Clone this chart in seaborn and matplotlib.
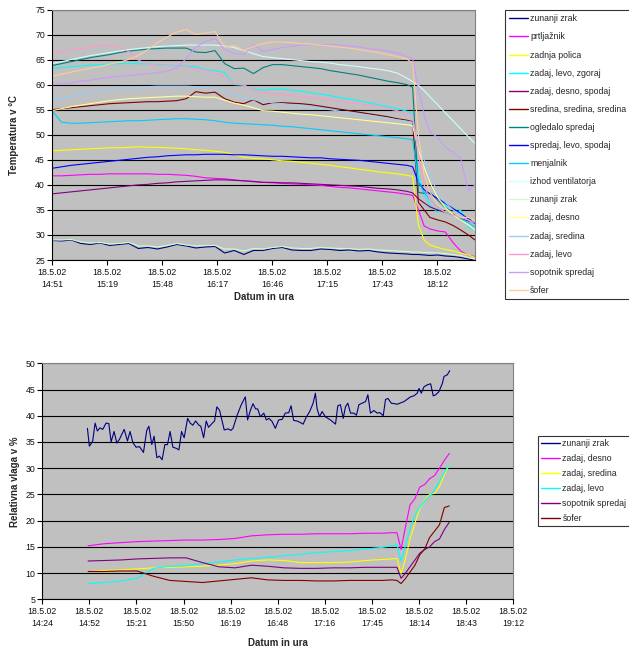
import numpy as np
import pandas as pd
import matplotlib
matplotlib.use("Agg")
import matplotlib.pyplot as plt
import seaborn as sns

sns.set_theme(style="white")
plt.rcParams['font.family'] = ['Liberation Sans', 'DejaVu Sans']

# ---------------- top chart: temperatures (minutes after 14:51) ----------------
temp_minutes = [0, 5, 10, 15, 20, 25, 30, 35, 40, 45,
                50, 55, 60, 65, 70, 75, 80, 85, 90, 95,
                100, 105, 110, 115, 120, 125, 130, 135, 140, 145,
                150, 155, 160, 165, 170, 175, 180, 185, 188, 191,
                194, 197, 201, 205, 209, 213, 217, 220.5]
temp_tick_labels = ["18.5.02\n14:51", "18.5.02\n15:19", "18.5.02\n15:48", "18.5.02\n16:17",
                    "18.5.02\n16:46", "18.5.02\n17:15", "18.5.02\n17:43", "18.5.02\n18:12"]

t_zunanji = [28.9, 28.8, 29.0, 28.3, 28.1, 28.4, 27.9, 28.1, 28.3, 27.3,
             27.5, 27.2, 27.6, 28.1, 27.8, 27.4, 27.6, 27.7, 26.4, 26.9,
             26.1, 26.9, 26.9, 27.3, 27.5, 27.0, 26.9, 26.9, 27.2, 27.1,
             26.9, 27.0, 26.8, 26.9, 26.6, 26.4, 26.3, 26.2, 26.1, 26.1,
             26.0, 25.9, 26.0, 25.8, 25.7, 25.5, 25.2, 24.9]
t_prtljaznik = [41.8, 41.8, 41.9, 42.0, 42.1, 42.1, 42.2, 42.2, 42.2, 42.2,
                42.2, 42.1, 42.1, 42.0, 41.9, 41.7, 41.4, 41.3, 41.2, 41.0,
                40.8, 40.6, 40.5, 40.4, 40.3, 40.2, 40.1, 40.0, 39.9, 39.7,
                39.5, 39.4, 39.2, 39.0, 38.8, 38.6, 38.4, 38.1, 37.9, 35.0,
                31.8, 31.2, 30.8, 30.6, 28.5, 26.8, 25.9, 25.7]
t_polica = [46.8, 46.9, 47.0, 47.1, 47.2, 47.3, 47.4, 47.4, 47.5, 47.6,
            47.5, 47.5, 47.4, 47.3, 47.2, 47.0, 46.9, 46.7, 46.5, 46.0,
            45.5, 45.3, 45.2, 45.0, 44.8, 44.7, 44.5, 44.3, 44.1, 43.9,
            43.6, 43.4, 43.1, 42.9, 42.6, 42.4, 42.2, 41.9, 41.7, 32.0,
            29.0, 28.0, 27.5, 27.1, 26.8, 26.4, 26.0, 25.5]
t_zlz = [63.3, 63.4, 63.6, 63.7, 63.9, 64.0, 64.1, 64.2, 64.2, 64.2,
         64.1, 64.0, 63.9, 63.8, 63.7, 63.6, 63.0, 62.8, 62.4, 60.0,
         59.9, 59.1, 58.9, 59.1, 59.1, 58.9, 58.7, 58.4, 58.1, 57.8,
         57.4, 57.1, 56.8, 56.4, 56.0, 55.6, 55.2, 54.7, 54.2, 42.0,
         38.0, 36.0, 34.5, 36.0, 34.0, 35.0, 31.5, 31.0]
t_zds = [38.2, 38.4, 38.6, 38.8, 39.0, 39.2, 39.4, 39.6, 39.8, 40.0,
         40.1, 40.3, 40.4, 40.6, 40.7, 40.8, 40.9, 41.0, 41.0, 40.9,
         40.8, 40.7, 40.5, 40.5, 40.4, 40.4, 40.3, 40.2, 40.1, 40.0,
         39.9, 39.8, 39.7, 39.5, 39.3, 39.2, 39.0, 38.7, 38.4, 37.2,
         36.4, 35.6, 35.0, 34.5, 34.0, 33.3, 32.8, 32.3]
t_sredina = [55.0, 55.2, 55.4, 55.6, 55.8, 56.0, 56.2, 56.3, 56.4, 56.5,
             56.6, 56.6, 56.7, 56.8, 57.2, 58.6, 58.3, 58.5, 57.2, 56.5,
             56.2, 57.0, 56.0, 56.4, 56.4, 56.3, 56.2, 56.0, 55.7, 55.4,
             55.1, 54.8, 54.5, 54.2, 53.9, 53.6, 53.2, 52.9, 52.6, 36.5,
             35.0, 33.5, 33.0, 32.6, 31.9, 31.0, 30.0, 29.0]
t_ogledalo = [63.8, 64.2, 64.6, 65.0, 65.4, 65.7, 66.0, 66.4, 66.7, 66.9,
              67.1, 67.2, 67.3, 67.3, 67.3, 66.5, 66.4, 66.8, 64.2, 63.2,
              63.3, 62.2, 63.4, 64.0, 64.0, 63.8, 63.6, 63.4, 63.2, 62.8,
              62.5, 62.2, 61.9, 61.5, 61.1, 60.7, 60.4, 60.0, 59.5, 38.5,
              38.3, 38.5, 37.0, 35.5, 34.5, 33.0, 33.5, 32.0]
t_sls = [43.3, 43.6, 43.9, 44.1, 44.3, 44.5, 44.7, 44.9, 45.1, 45.3,
         45.5, 45.6, 45.8, 45.9, 46.0, 46.0, 46.1, 46.1, 46.1, 46.0,
         46.0, 45.9, 45.8, 45.7, 45.7, 45.6, 45.5, 45.4, 45.4, 45.2,
         45.1, 45.0, 44.9, 44.7, 44.5, 44.3, 44.1, 43.9, 43.6, 40.5,
         39.0, 38.2, 37.3, 36.3, 35.3, 34.3, 33.2, 32.3]
t_menjalnik = [54.8, 52.5, 52.3, 52.3, 52.4, 52.5, 52.6, 52.7, 52.8, 52.8,
               52.9, 53.0, 53.1, 53.2, 53.2, 53.1, 53.0, 52.8, 52.5, 52.3,
               52.2, 52.1, 52.0, 51.9, 51.7, 51.6, 51.4, 51.2, 51.0, 50.8,
               50.6, 50.4, 50.2, 50.0, 49.8, 49.6, 49.4, 49.2, 49.0, 40.5,
               38.5, 37.0, 35.5, 34.5, 34.0, 33.2, 32.5, 31.5]
t_izhod = [64.2, 64.6, 65.0, 65.4, 65.8, 66.1, 66.4, 66.7, 67.0, 67.2,
           67.4, 67.6, 67.7, 67.8, 67.9, 67.9, 67.9, 67.9, 67.7, 67.4,
           66.8, 66.2, 65.6, 65.4, 65.2, 65.0, 64.8, 64.6, 64.5, 64.3,
           64.0, 63.8, 63.6, 63.3, 63.1, 62.8, 62.3, 61.3, 60.6, 59.9,
           58.8, 57.6, 56.0, 54.4, 52.8, 51.2, 49.6, 48.3]
t_zunanji2 = [29.0, 29.0, 29.1, 28.6, 28.4, 28.5, 28.2, 28.3, 28.5, 27.8,
              27.8, 27.6, 27.9, 28.3, 28.0, 27.8, 27.9, 27.9, 27.2, 27.2,
              26.8, 27.3, 27.2, 27.5, 27.7, 27.4, 27.3, 27.3, 27.5, 27.4,
              27.3, 27.3, 27.1, 27.2, 27.0, 26.9, 26.8, 26.7, 26.6, 26.6,
              26.5, 26.5, 26.4, 26.3, 26.1, 25.9, 25.5, 25.2]
t_zadaj_desno = [54.8, 55.2, 55.6, 55.9, 56.2, 56.5, 56.8, 57.0, 57.2, 57.3,
                 57.4, 57.5, 57.6, 57.7, 57.7, 57.6, 57.5, 57.5, 56.9, 56.3,
                 55.9, 55.4, 54.8, 54.7, 54.5, 54.3, 54.1, 54.0, 53.8, 53.6,
                 53.4, 53.2, 53.0, 52.8, 52.6, 52.4, 52.2, 52.0, 51.8, 47.0,
                 43.5, 40.5, 37.5, 35.5, 34.0, 33.0, 32.0, 31.0]
t_zadaj_sredina = [56.9, 57.2, 57.6, 58.0, 58.4, 58.7, 59.0, 59.2, 59.4, 59.5,
                   59.6, 59.7, 59.7, 59.7, 59.7, 59.6, 59.5, 59.3, 58.7, 58.0,
                   57.4, 57.0, 56.6, 56.4, 56.2, 55.9, 55.7, 55.5, 55.2, 55.0,
                   54.7, 54.4, 54.1, 53.9, 53.6, 53.3, 53.0, 52.7, 52.5, 48.5,
                   45.0, 42.0, 38.5, 36.5, 35.0, 34.0, 33.0, 32.0]
t_zadaj_levo = [66.3, 66.7, 67.0, 67.2, 67.5, 67.8, 67.8, 67.5, 66.6, 64.9,
                64.1, 63.9, 63.8, 63.7, 63.6, 63.1, 62.9, 62.3, 61.6, 60.2,
                59.9, 59.0, 58.3, 58.2, 58.0, 57.8, 57.6, 57.4, 57.2, 56.9,
                56.7, 56.4, 56.2, 55.9, 55.6, 55.2, 54.8, 54.3, 53.9, 46.0,
                40.0, 37.0, 35.5, 34.5, 34.0, 33.5, 33.0, 32.5]
t_sopotnik = [60.0, 60.2, 60.4, 60.7, 60.9, 61.2, 61.5, 61.7, 61.8, 62.0,
              62.2, 62.4, 62.7, 63.4, 65.2, 67.5, 68.6, 69.2, 67.0, 66.2,
              66.0, 68.0, 66.6, 67.0, 67.4, 67.7, 67.9, 68.0, 68.0, 68.0,
              67.9, 67.7, 67.5, 67.2, 67.0, 66.7, 66.3, 65.6, 65.2, 59.0,
              54.0, 50.5, 49.5, 47.5, 46.5, 45.3, 38.8, 40.0]
t_sofer = [61.7, 62.1, 62.5, 62.9, 63.3, 63.6, 64.1, 64.5, 65.0, 65.8,
           67.0, 68.4, 69.5, 70.5, 71.0, 70.0, 70.3, 70.6, 67.5, 67.8,
           66.8, 67.6, 68.2, 68.5, 68.5, 68.4, 68.2, 68.1, 67.9, 67.7,
           67.5, 67.3, 67.0, 66.7, 66.4, 66.0, 65.6, 65.1, 64.3, 50.0,
           42.0, 38.5, 36.0, 35.0, 34.5, 33.5, 33.5, 33.0]

temp_names = ["zunanji zrak", "prtljažnik", "zadnja polica", "zadaj, levo, zgoraj",
              "zadaj, desno, spodaj", "sredina, sredina, sredina", "ogledalo spredaj",
              "spredaj, levo, spodaj", "menjalnik", "izhod ventilatorja", "zunanji zrak",
              "zadaj, desno", "zadaj, sredina", "zadaj, levo", "sopotnik spredaj", "šofer"]
temp_series = [t_zunanji, t_prtljaznik, t_polica, t_zlz, t_zds, t_sredina, t_ogledalo,
               t_sls, t_menjalnik, t_izhod, t_zunanji2, t_zadaj_desno, t_zadaj_sredina,
               t_zadaj_levo, t_sopotnik, t_sofer]
temp_colors = ["#000080", "#FF00FF", "#FFFF00", "#00FFFF", "#800080", "#800000", "#008080",
               "#0000FF", "#00CCFF", "#CCFFFF", "#CCFFCC", "#FFFF99", "#99CCFF", "#FF99CC",
               "#CC99FF", "#FFCC99"]

# ---------------- bottom chart: humidity (minutes after 14:24) ----------------
rh_tick_labels = ["18.5.02\n14:24", "18.5.02\n14:52", "18.5.02\n15:21", "18.5.02\n15:50",
                  "18.5.02\n16:19", "18.5.02\n16:48", "18.5.02\n17:16", "18.5.02\n17:45",
                  "18.5.02\n18:14", "18.5.02\n18:43", "18.5.02\n19:12"]
rh_out_minutes = [27.6, 28.8, 30.8, 32.3, 33.7, 35.3, 37.0, 39.0, 40.7, 42.1,
                  43.9, 45.6, 47.2, 50.1, 52.1, 53.7, 55.4, 57.4, 59.5, 61.9,
                  63.9, 65.2, 67.0, 68.4, 70.1, 71.7, 73.3, 75.0, 76.6, 78.2,
                  79.9, 81.9, 83.6, 85.2, 86.8, 88.9, 90.5, 92.1, 93.8, 95.8,
                  97.0, 98.7, 100.3, 101.7, 103.8, 105.4, 106.8, 108.5, 111.3, 113.8,
                  115.4, 116.7, 119.1, 121.6, 124.2, 125.6, 127.3, 128.9, 130.5, 131.8,
                  133.4, 135.5, 137.1, 138.7, 140.6, 142.6, 144.6, 146.7, 148.7, 150.8,
                  152.2, 153.8, 155.9, 157.9, 159.6, 161.6, 163.6, 165.7, 167.1, 168.1,
                  169.6, 171.2, 173.2, 176.3, 179.4, 180.8, 182.4, 184.1, 185.5, 186.9,
                  188.6, 190.6, 192.2, 193.7, 195.7, 197.8, 199.2, 200.8, 202.9, 204.9,
                  206.5, 208.6, 210.0, 211.5, 213.5, 217.2, 221.3, 225.3, 227.4, 229.4,
                  230.5, 231.9, 233.5, 235.6, 237.6, 239.2, 240.7, 242.7, 244.8, 245.8,
                  247.8, 249.3]
rh_out = [37.6, 34.2, 35.1, 38.6, 37.1, 37.7, 37.4, 38.6, 38.5, 35.0,
          37.0, 34.8, 35.5, 37.4, 35.2, 37.0, 34.9, 34.0, 34.1, 33.0,
          37.2, 38.0, 34.5, 36.1, 32.0, 32.3, 31.6, 34.5, 34.5, 37.0,
          34.0, 33.8, 33.5, 37.0, 35.8, 39.5, 38.6, 38.2, 39.0, 38.2,
          38.0, 35.8, 39.0, 37.8, 38.5, 39.0, 41.7, 41.0, 37.3, 37.5,
          37.2, 37.6, 40.0, 42.0, 43.6, 39.2, 41.0, 42.3, 41.3, 41.3,
          39.8, 40.5, 39.2, 39.5, 38.9, 37.6, 39.2, 39.3, 40.5, 40.6,
          41.9, 39.1, 39.0, 38.7, 38.4, 39.8, 40.8, 42.4, 44.3, 41.4,
          39.8, 40.8, 39.8, 39.2, 38.4, 41.9, 42.1, 39.5, 41.7, 42.4,
          40.5, 40.5, 40.1, 42.1, 42.4, 42.7, 44.0, 40.5, 41.0, 40.5,
          40.6, 40.0, 43.1, 43.3, 42.4, 42.2, 42.7, 43.6, 43.8, 44.3,
          45.2, 44.3, 45.5, 45.9, 46.1, 43.8, 44.0, 44.6, 46.2, 47.5,
          47.8, 48.6]

rh_minutes = [28, 38, 48, 58, 68, 78, 88, 98, 108, 118,
              128, 138, 148, 158, 168, 178, 188, 198, 208, 214,
              217, 219.5, 222, 225, 228, 231, 234, 237, 240, 243,
              246, 249]
rh_zadaj_desno = [15.2, 15.6, 15.8, 16.0, 16.1, 16.2, 16.3, 16.3, 16.4, 16.6,
                  17.1, 17.3, 17.4, 17.4, 17.5, 17.5, 17.5, 17.6, 17.6, 17.7,
                  17.7, 14.5, 18.5, 23.0, 24.2, 26.4, 26.9, 28.0, 28.6, 30.0,
                  31.5, 32.8]
rh_zadaj_sredina = [10.3, 10.5, 10.6, 10.8, 11.0, 11.1, 11.2, 11.3, 11.5, 11.8,
                    12.3, 12.5, 12.4, 12.0, 12.0, 12.0, 12.1, 12.4, 12.6, 12.7,
                    12.8, 9.9, 12.5, 16.5, 19.5, 22.4, 24.0, 25.0, 25.2, 26.5,
                    28.8, 30.6]
rh_zadaj_levo = [8.0, 8.2, 8.5, 9.0, 10.9, 11.3, 11.4, 11.8, 12.1, 12.5,
                 12.8, 13.0, 13.3, 13.6, 13.9, 14.1, 14.3, 14.6, 14.9, 15.2,
                 15.4, 12.3, 15.0, 18.5, 21.0, 22.6, 23.8, 24.7, 25.8, 27.5,
                 29.2, 30.6]
rh_sopotnik = [12.3, 12.4, 12.5, 12.7, 12.8, 12.9, 12.9, 12.0, 11.2, 11.0,
               11.5, 11.3, 11.0, 10.9, 10.9, 11.0, 11.0, 11.1, 11.1, 11.1,
               11.1, 9.0, 9.9, 11.2, 12.5, 13.8, 14.5, 15.0, 16.0, 16.5,
               18.3, 19.7]
rh_sofer = [10.3, 10.3, 10.4, 10.4, 9.4, 8.6, 8.4, 8.2, 8.5, 8.8,
            9.1, 8.7, 8.6, 8.6, 8.5, 8.5, 8.6, 8.6, 8.6, 8.7,
            8.6, 8.0, 8.9, 10.2, 11.5, 13.5, 14.6, 16.8, 18.0, 19.2,
            22.5, 22.8]

rh_names = ["zadaj, desno", "zadaj, sredina", "zadaj, levo", "sopotnik spredaj", "šofer"]
rh_series = [rh_zadaj_desno, rh_zadaj_sredina, rh_zadaj_levo, rh_sopotnik, rh_sofer]
rh_colors = ["#FF00FF", "#FFFF00", "#00FFFF", "#800080", "#800000"]

# ---------------- figure ----------------
W, H = 629, 649
fig = plt.figure(figsize=(W / 100, H / 100), dpi=100)
ax1 = fig.add_axes([52 / W, 1 - 260 / H, 423 / W, 250.5 / H])
ax2 = fig.add_axes([42.3 / W, 1 - 599.3 / H, 470.7 / W, 236 / H])

for ax in (ax1, ax2):
    ax.set_facecolor("#C0C0C0")
    ax.set_axisbelow(True)
    ax.yaxis.grid(True, color="black", lw=0.8)
    ax.xaxis.grid(False)
    for s in ("left", "bottom"):
        ax.spines[s].set_color("black")
        ax.spines[s].set_linewidth(0.8)
    for s in ("top", "right"):
        ax.spines[s].set_color("#808080")
        ax.spines[s].set_linewidth(0.8)
    ax.tick_params(axis="both", which="major", direction="out", length=3.5, width=0.8,
                   color="black", labelsize=6.3, labelcolor="#111111", pad=1.5,
                   bottom=True, left=True)
    ax.tick_params(axis="x", pad=2.3)

LW = 0.8
for name, vals, col in zip(temp_names, temp_series, temp_colors):
    df = pd.DataFrame({"t": temp_minutes, "v": vals})
    sns.lineplot(data=df, x="t", y="v", ax=ax1, color=col, lw=LW, label=name,
                 sort=False, estimator=None)

df = pd.DataFrame({"t": rh_out_minutes, "v": rh_out})
sns.lineplot(data=df, x="t", y="v", ax=ax2, color="#000080", lw=LW, label="zunanji zrak",
             sort=False, estimator=None)
for name, vals, col in zip(rh_names, rh_series, rh_colors):
    df = pd.DataFrame({"t": rh_minutes, "v": vals})
    sns.lineplot(data=df, x="t", y="v", ax=ax2, color=col, lw=LW, label=name,
                 sort=False, estimator=None)

# top axes
step1 = 28.67
ax1.set_xlim(0, 220.5)
ax1.set_ylim(25, 75)
ax1.set_yticks(np.arange(25, 76, 5))
ax1.set_xticks(np.arange(len(temp_tick_labels)) * step1)
ax1.set_xticklabels(temp_tick_labels, linespacing=1.42)
ax1.set_xlabel("Datum in ura", fontsize=7, fontweight="bold")
ax1.set_ylabel("Temperatura v °C", fontsize=7, fontweight="bold")
ax1.xaxis.set_label_coords(0.5, -0.128)
ax1.yaxis.set_label_coords(-0.078, 0.5)

# bottom axes
step2 = 28.8
ax2.set_xlim(0, 288)
ax2.set_ylim(5, 50)
ax2.set_yticks(np.arange(5, 51, 5))
ax2.set_xticks(np.arange(len(rh_tick_labels)) * step2)
ax2.set_xticklabels(rh_tick_labels, linespacing=1.42)
ax2.set_xlabel("Datum in ura", fontsize=7, fontweight="bold")
ax2.set_ylabel("Relativna vlaga v %", fontsize=7, fontweight="bold")
ax2.xaxis.set_label_coords(0.5, -0.163)
ax2.yaxis.set_label_coords(-0.047, 0.5)

# legends
for ax, anchor, spacing, pad in ((ax1, (504.5 / W, 1 - 10 / H), 1.04, 0.5),
                                 (ax2, (537.5 / W, 1 - 435.5 / H), 0.68, 0.4)):
    handles, labels = ax.get_legend_handles_labels()
    if ax.get_legend() is not None:
        ax.get_legend().remove()
    leg = fig.legend(handles, labels, loc="upper left", bbox_to_anchor=anchor,
                     bbox_transform=fig.transFigure, borderaxespad=0, frameon=True,
                     fancybox=False, shadow=False, fontsize=6.3, handlelength=2.2,
                     handletextpad=0.25, labelspacing=spacing, borderpad=pad)
    fr = leg.get_frame()
    fr.set_edgecolor("black")
    fr.set_linewidth(0.8)
    fr.set_facecolor("white")
    for line in leg.get_lines():
        line.set_linewidth(1.0)

fig.savefig("out.png", dpi=100, facecolor="white")
